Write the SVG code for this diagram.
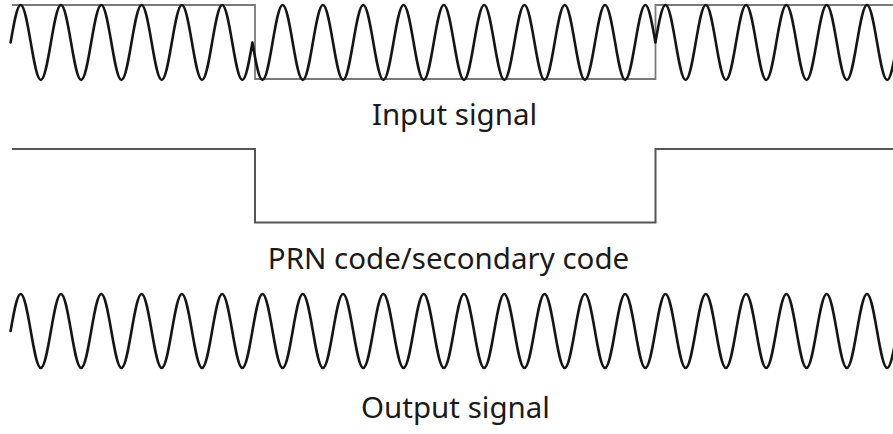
<svg xmlns="http://www.w3.org/2000/svg" width="893" height="434" viewBox="0 0 893 434">
<style>
.bg{fill:#ffffff}
.wave{fill:none;stroke:#151515;stroke-width:2.6;stroke-linejoin:round;stroke-linecap:round}
.sq1{fill:none;stroke:#7a7a7a;stroke-width:1.8}
.sq2{fill:none;stroke:#555555;stroke-width:2}
.lbl{font-family:"Noto Sans","Open Sans","Liberation Sans",sans-serif;font-size:29.5px;fill:#1a1a1a;text-anchor:middle}
</style>
<rect class="bg" x="0" y="0" width="893" height="434"/>
<g id="input-signal">
<path class="sq1" d="M12,5 H255 V79 H655.5 V5 H893"/>
<path class="wave" d="M10.6,42.5 c3.21,-18.75 6.42,-37.5 10.08,-37.5 c7.32,0 12.83,75 20.15,75
s12.83,-75 20.15,-75 s12.83,75 20.15,75 s12.83,-75 20.15,-75 s12.83,75 20.15,75 s12.83,-75 20.15,-75 s12.83,75 20.15,75 s12.83,-75 20.15,-75 s12.83,75 20.15,75 s12.83,-75 20.15,-75 s12.83,75 20.15,75
c3.66,0 6.87,-18.75 10.08,-37.5 c3.21,18.75 6.42,37.5 10.08,37.5
c7.32,0 12.83,-75 20.15,-75
s12.83,75 20.15,75 s12.83,-75 20.15,-75 s12.83,75 20.15,75 s12.83,-75 20.15,-75 s12.83,75 20.15,75 s12.83,-75 20.15,-75 s12.83,75 20.15,75 s12.83,-75 20.15,-75 s12.83,75 20.15,75 s12.83,-75 20.15,-75 s12.83,75 20.15,75 s12.83,-75 20.15,-75 s12.83,75 20.15,75 s12.83,-75 20.15,-75 s12.83,75 20.15,75 s12.83,-75 20.15,-75 s12.83,75 20.15,75 s12.83,-75 20.15,-75
c3.66,0 6.87,18.75 10.08,37.5 c3.21,-18.75 6.42,-37.5 10.08,-37.5
c7.32,0 12.83,75 20.15,75
s12.83,-75 20.15,-75 s12.83,75 20.15,75 s12.83,-75 20.15,-75 s12.83,75 20.15,75 s12.83,-75 20.15,-75 s12.83,75 20.15,75 s12.83,-75 20.15,-75 s12.83,75 20.15,75 s12.83,-75 20.15,-75 s12.83,75 20.15,75 s12.83,-75 20.15,-75"/>
<text class="lbl" x="454.5" y="124.5">Input signal</text>
</g>
<g id="prn-code">
<path class="sq2" d="M12,149 H255 V222.5 H655.5 V149 H893"/>
<text class="lbl" x="448.5" y="268.5">PRN code/secondary code</text>
</g>
<g id="output-signal">
<path class="wave" d="M10.6,331 c3.21,-18.5 6.42,-37 10.08,-37 c7.32,0 12.83,74 20.15,74
s12.83,-74 20.15,-74 s12.83,74 20.15,74 s12.83,-74 20.15,-74 s12.83,74 20.15,74 s12.83,-74 20.15,-74 s12.83,74 20.15,74 s12.83,-74 20.15,-74 s12.83,74 20.15,74 s12.83,-74 20.15,-74 s12.83,74 20.15,74
s12.83,-74 20.15,-74 s12.83,74 20.15,74 s12.83,-74 20.15,-74 s12.83,74 20.15,74 s12.83,-74 20.15,-74 s12.83,74 20.15,74 s12.83,-74 20.15,-74 s12.83,74 20.15,74 s12.83,-74 20.15,-74 s12.83,74 20.15,74
s12.83,-74 20.15,-74 s12.83,74 20.15,74 s12.83,-74 20.15,-74 s12.83,74 20.15,74 s12.83,-74 20.15,-74 s12.83,74 20.15,74 s12.83,-74 20.15,-74 s12.83,74 20.15,74 s12.83,-74 20.15,-74 s12.83,74 20.15,74
s12.83,-74 20.15,-74 s12.83,74 20.15,74 s12.83,-74 20.15,-74 s12.83,74 20.15,74 s12.83,-74 20.15,-74 s12.83,74 20.15,74 s12.83,-74 20.15,-74 s12.83,74 20.15,74 s12.83,-74 20.15,-74 s12.83,74 20.15,74
s12.83,-74 20.15,-74 s12.83,74 20.15,74 s12.83,-74 20.15,-74"/>
<text class="lbl" x="455.5" y="418">Output signal</text>
</g>
</svg>
